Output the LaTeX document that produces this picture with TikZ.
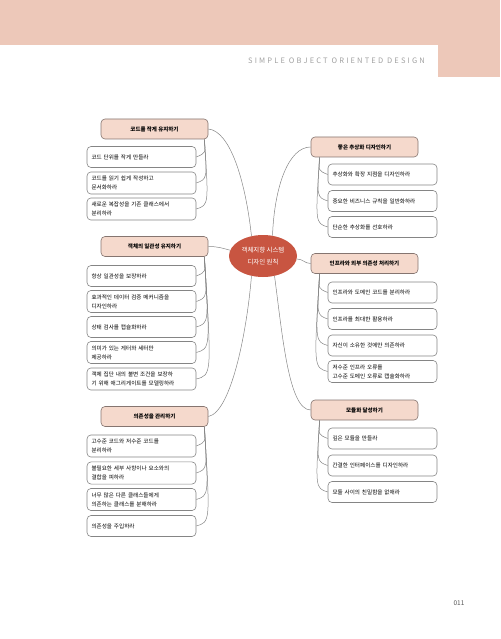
\documentclass[tikz,border=0pt]{standalone}
\usepackage{fontspec}
\setmainfont{Noto Sans CJK KR}
\newfontfamily\headfont[LetterSpace=29]{Noto Sans CJK KR}
\usetikzlibrary{shapes.geometric,calc}
\definecolor{sobband}{HTML}{EDC8B9}
\definecolor{sobpink}{HTML}{F5D9CC}
\definecolor{sobedge}{HTML}{857570}
\definecolor{sobgray}{HTML}{858585}
\definecolor{sobred}{HTML}{C85541}
\definecolor{sobhead}{HTML}{A0A0A0}
\definecolor{sobnum}{HTML}{555555}
\begin{document}
\begin{tikzpicture}[x=1pt,y=-1pt,
  sobtopic/.style={draw=sobedge, fill=sobpink, rounded corners=4pt, line width=0.6pt,
    minimum width=107pt, minimum height=20pt, inner sep=2pt,
    font=\bfseries\fontsize{5.5}{6.5}\selectfont},
  sobitem/.style={draw=sobgray, fill=white, rounded corners=4pt, line width=0.6pt,
    text width=100pt, align=left, minimum height=21pt, inner xsep=4.5pt, inner ysep=4pt,
    font=\fontsize{5.6}{9}\selectfont},
  sobline/.style={draw=sobgray, line width=0.5pt}]
  \useasboundingbox (0,0) rectangle (500,639);
  % page band
  \fill[sobband] (0,0) rectangle (500,45);
  \fill[sobband] (438,0) rectangle (500,77);
  \node[anchor=base east, text=sobhead, inner sep=0pt,
    font=\headfont\fontsize{7.5}{8}\selectfont] (header) at (425,64) {SIMPLE OBJECT ORIENTED DESIGN};
  % center
  \node[ellipse, fill=sobred, text=white, minimum width=68pt, minimum height=42pt,
    inner sep=0pt, align=center, font=\fontsize{6.4}{12}\selectfont] (root) at (263,256)
    {객체지향 시스템\\디자인 원칙};
  % left topics
  \node[sobtopic] (lt1) at (154.5,129) {코드를 작게 유지하기};
  \node[sobtopic] (lt2) at (154.5,246.5) {객체의 일관성 유지하기};
  \node[sobtopic] (lt3) at (154.5,416.5) {의존성을 관리하기};
  \node[sobitem] (l1a) at (141.5,157) {코드 단위를 작게 만들라};
  \node[sobitem] (l1b) at (141.5,183) {코드를 읽기 쉽게 작성하고\\문서화하라};
  \node[sobitem] (l1c) at (141.5,209) {새로운 복잡성을 기존 클래스에서\\분리하라};
  \node[sobitem] (l2a) at (141.5,276) {항상 일관성을 보장하라};
  \node[sobitem] (l2b) at (141.5,301.5) {효과적인 데이터 검증 메커니즘을\\디자인하라};
  \node[sobitem] (l2c) at (141.5,327) {상태 검사를 캡슐화하라};
  \node[sobitem] (l2d) at (141.5,352.5) {의미가 있는 게터와 세터만\\제공하라};
  \node[sobitem] (l2e) at (141.5,379) {객체 집단 내의 불변 조건을 보장하\\기 위해 애그리게이트를 모델링하라};
  \node[sobitem] (l3a) at (141.5,446) {고수준 코드와 저수준 코드를\\분리하라};
  \node[sobitem] (l3b) at (141.5,473) {불필요한 세부 사항이나 요소와의\\결합을 피하라};
  \node[sobitem] (l3c) at (141.5,499.5) {너무 많은 다른 클래스들에게\\의존하는 클래스를 분해하라};
  \node[sobitem] (l3d) at (141.5,526) {의존성을 주입하라};
  % right topics
  \node[sobtopic] (rt1) at (364.5,147) {좋은 추상화 디자인하기};
  \node[sobtopic] (rt2) at (364.5,263.5) {인프라와 외부 의존성 처리하기};
  \node[sobtopic] (rt3) at (364.5,410) {모듈화 달성하기};
  \node[sobitem] (r1a) at (382.5,174.5) {추상화와 확장 지점을 디자인하라};
  \node[sobitem] (r1b) at (382.5,201) {중요한 비즈니스 규칙을 일반화하라};
  \node[sobitem] (r1c) at (382.5,227) {단순한 추상화를 선호하라};
  \node[sobitem] (r2a) at (382.5,292.5) {인프라와 도메인 코드를 분리하라};
  \node[sobitem] (r2b) at (382.5,319) {인프라를 최대한 활용하라};
  \node[sobitem] (r2c) at (382.5,345.5) {자신이 소유한 것에만 의존하라};
  \node[sobitem] (r2d) at (382.5,371.5) {저수준 인프라 오류를\\고수준 도메인 오류로 캡슐화하라};
  \node[sobitem] (r3a) at (382.5,438.5) {깊은 모듈을 만들라};
  \node[sobitem] (r3b) at (382.5,465.5) {간결한 인터페이스를 디자인하라};
  \node[sobitem] (r3c) at (382.5,492) {모듈 사이의 친밀함을 없애라};
  \node[font=\fontsize{6.5}{7}\selectfont, text=sobnum] (pagenum) at (459,603) {011};
  % center to topics
  \draw[sobline] (lt1.east) .. controls +(22,2) and +(-6,-55) .. (root.120);
  \draw[sobline] (lt2.east) .. controls +(10,0) and +(-8,-2) .. (root.170);
  \draw[sobline] (lt3.east) .. controls +(22,-4) and +(-5,60) .. (root.240);
  \draw[sobline] (root.65) .. controls +(2,-50) and +(-22,0) .. (rt1.west);
  \draw[sobline] (root.355) .. controls +(6,0) and +(-6,0) .. (rt2.west);
  \draw[sobline] (root.300) .. controls +(8,60) and +(-22,0) .. (rt3.west);
  % topics to items
  \foreach \t/\list in {lt1/{l1a,l1b,l1c}, lt2/{l2a,l2b,l2c,l2d,l2e}, lt3/{l3a,l3b,l3c,l3d}} {
    \coordinate (\t f) at ([xshift=-4pt]\t.south east);
    \foreach \s [count=\k] in \list {
      \draw[sobline] (\t f) .. controls ($(\t f |- \s.east)+(1.5*\k,-4)$) .. (\s.east);
    }
  }
  \foreach \t/\list in {rt1/{r1a,r1b,r1c}, rt2/{r2a,r2b,r2c,r2d}, rt3/{r3a,r3b,r3c}} {
    \coordinate (\t f) at ([xshift=9pt]\t.south west);
    \foreach \s [count=\k] in \list {
      \draw[sobline] (\t f) .. controls ($(\t f |- \s.west)+(-1.5*\k,-4)$) .. (\s.west);
    }
  }
\end{tikzpicture}
\end{document}
